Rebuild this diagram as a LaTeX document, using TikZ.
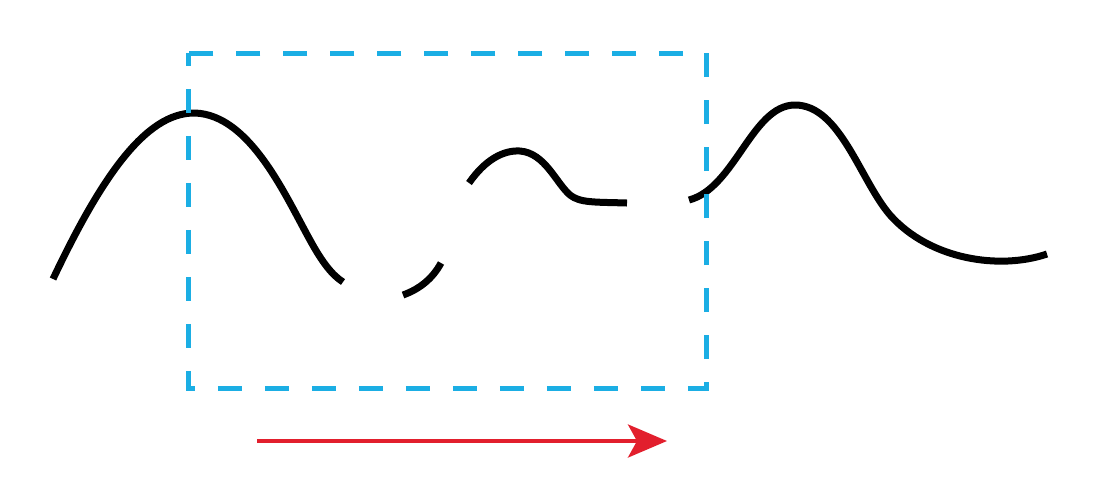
\documentclass[tikz,border=0pt]{standalone}
\usepackage{tikz}
\usetikzlibrary{arrows.meta}
\definecolor{frameblue}{HTML}{1BAEE4}
\definecolor{arrowred}{HTML}{E21F2D}

\begin{document}
\begin{tikzpicture}[x=0.02cm, y=-0.02cm,
    wave/.style={line width=0.14cm, black},
    window/.style={line width=0.1cm, frameblue, dash pattern=on 0.48cm off 0.46cm, dash phase=0.22cm},
    motion/.style={line width=0.08cm, arrowred, -{Stealth[length=0.78cm, width=0.66cm, inset=0.18cm]}}]
            \useasboundingbox (0,0) rectangle (1102,488);

            % signal pieces
            \draw[wave] (53,279) .. controls (100,180) and (145,112) .. (195,113)
                .. controls (250,115) and (285,195) .. (310,240)
                .. controls (322,262) and (332,275) .. (343,282);
            \draw[wave] (403,295) .. controls (420,289) and (433,278) .. (441,263);
            \draw[wave] (469,183) .. controls (485,160) and (503,150) .. (520,151)
                .. controls (545,153) and (556,183) .. (570,195)
                .. controls (580,203) and (595,202) .. (627,203);
            \draw[wave] (689,200) .. controls (735,188) and (752,105) .. (795,105)
                .. controls (840,105) and (860,180) .. (890,215)
                .. controls (930,260) and (1000,270) .. (1047,254);

            % window
            \draw[window] (188,53) rectangle (706,388);

            % direction
            \coordinate (start) at (257,441);
            \coordinate (end) at (667,441);
            \draw[motion] (start) -- (end);
        \end{tikzpicture}
\end{document}
